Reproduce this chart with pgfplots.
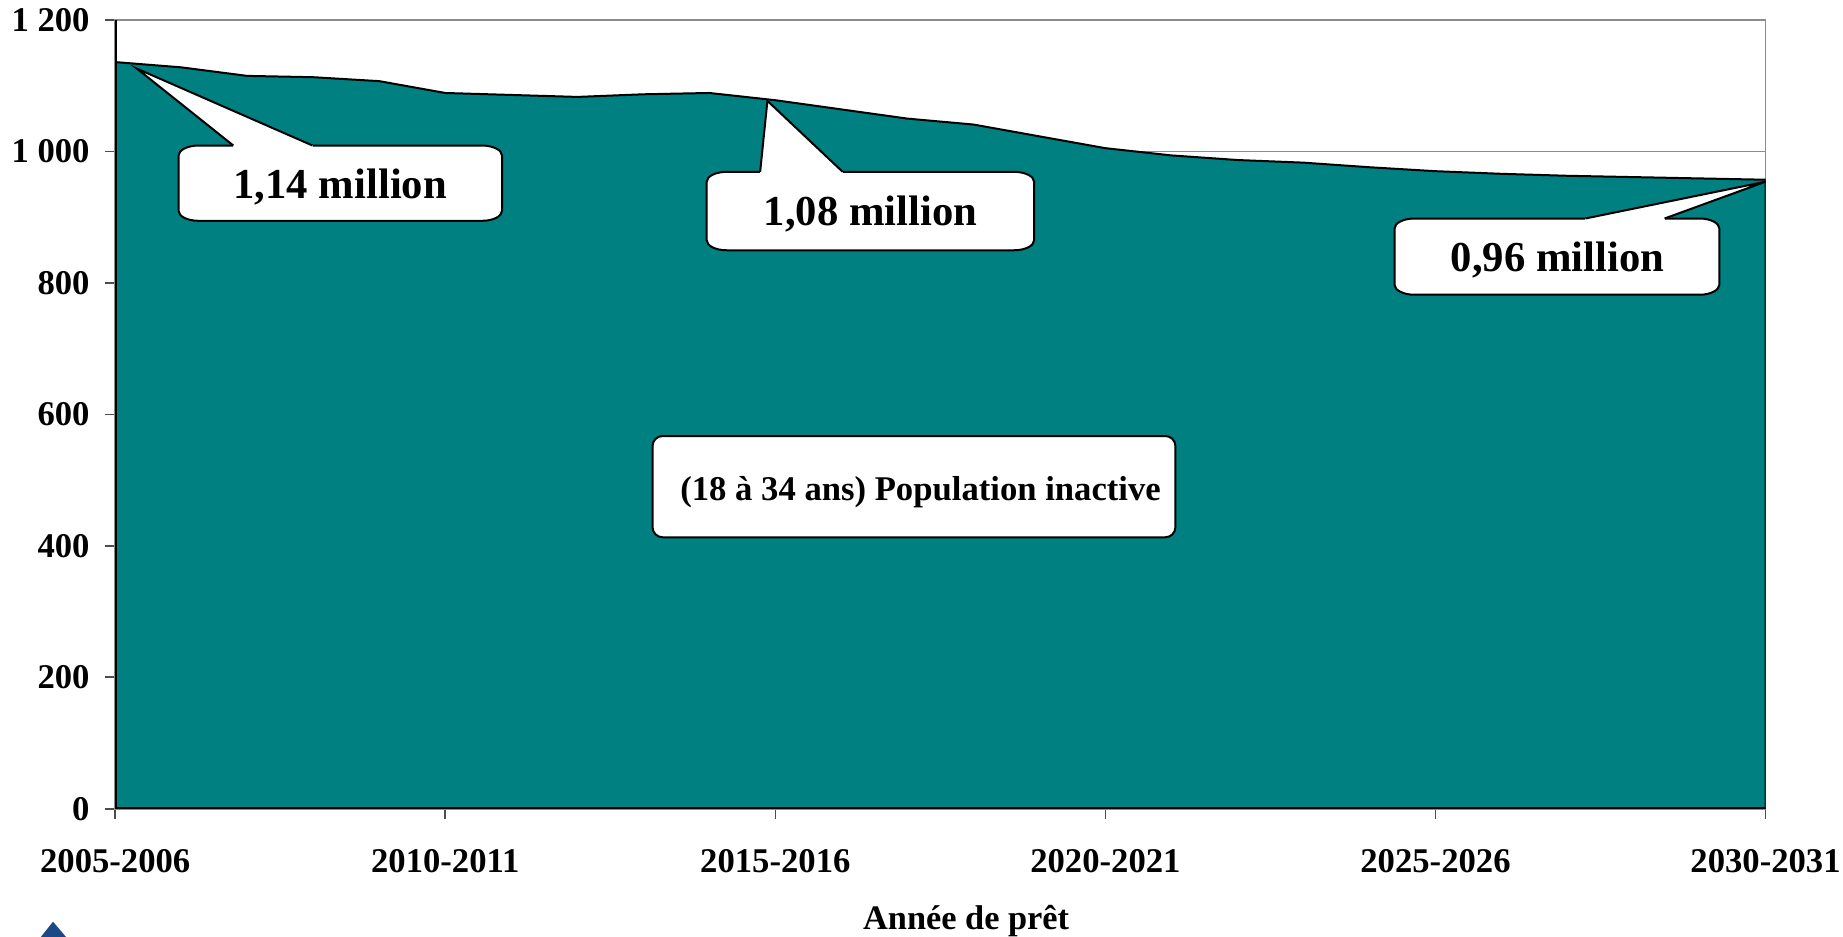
\documentclass[border=0pt]{standalone}
\usepackage{pgfplots}
\pgfplotsset{compat=1.18}
\usepackage{fontspec}
\setmainfont{Liberation Serif}
\definecolor{areateal}{RGB}{0,128,128}
\definecolor{logoblue}{RGB}{28,72,132}
\definecolor{framegray}{RGB}{140,140,140}

% callout box with elliptical corners: xleft, ybottom, xright, ytop (axis units)
\newcommand{\cbox}[4]{%
  \filldraw[fill=white, draw=black, line width=0.6pt]
    ([xshift=6pt]axis cs:#1,#4) -- ([xshift=-6pt]axis cs:#3,#4)
    arc[start angle=90, end angle=0, x radius=6pt, y radius=3pt]
    -- ([yshift=3pt]axis cs:#3,#2)
    arc[start angle=0, end angle=-90, x radius=6pt, y radius=3pt]
    -- ([xshift=6pt]axis cs:#1,#2)
    arc[start angle=270, end angle=180, x radius=6pt, y radius=3pt]
    -- ([yshift=-3pt]axis cs:#1,#4)
    arc[start angle=180, end angle=90, x radius=6pt, y radius=3pt] -- cycle;}
% pointer: base x1, base x2, base y, tip x, tip y
\newcommand{\cptr}[5]{%
  \fill[white] (axis cs:#1,#3) -- (axis cs:#4,#5) -- (axis cs:#2,#3) -- cycle;
  \fill[white] ([yshift=-1.5pt]axis cs:#1,#3) rectangle ([yshift=0.2pt]axis cs:#2,#3);
  \draw[black, line width=0.6pt, line join=miter] (axis cs:#1,#3) -- (axis cs:#4,#5) -- (axis cs:#2,#3);}

\begin{document}
\begin{tikzpicture}
\begin{axis}[
    scale only axis,
    width=495.1pt, height=236.6pt,
    xmin=0, xmax=25, ymin=0, ymax=1200,
    xtick={0,5,10,15,20,25},
    xticklabels={2005-2006,2010-2011,2015-2016,2020-2021,2025-2026,2030-2031},
    ytick={0,200,400,600,800,1000,1200},
    yticklabels={0,200,400,600,800,1 000,1 200},
    xtick pos=bottom, ytick pos=left,
    tick align=outside, major tick length=3pt,
    tick style={black!70, line width=0.5pt},
    ymajorgrids, grid style={framegray, line width=0.4pt},
    axis line style={framegray, line width=0.5pt},
    tick label style={font=\bfseries\fontsize{10.4}{12}\selectfont},
    yticklabel style={anchor=east, inner sep=0pt, xshift=-4.5pt},
    xticklabel style={anchor=center, inner sep=0pt, yshift=-12.6pt},
    xlabel={Année de prêt},
    xlabel style={font=\bfseries\fontsize{10.3}{12}\selectfont,
                  at={(axis description cs:0.5156,0)}, anchor=center, yshift=-33.8pt},
]
\addplot[fill=areateal, draw=black, line width=0.6pt] coordinates {
    (0,1136) (1,1128) (2,1115) (3,1113) (4,1107) (5,1089) (6,1086) (7,1083)
    (8,1087) (9,1089) (10,1078) (11,1064) (12,1050) (13,1041) (14,1023)
    (15,1005) (16,994) (17,987) (18,983) (19,976) (20,970) (21,966)
    (22,963) (23,961) (24,959) (25,957)
} \closedcycle;

\draw[black, line width=0.8pt] (axis cs:0,1200) -- (axis cs:0,0) -- (axis cs:25,0);

% callouts
\cbox{0.96}{894.5}{5.86}{1009}
\cptr{1.79}{2.99}{1009}{0.33}{1126}
\node[font=\bfseries\fontsize{12.8}{14}\selectfont] at (axis cs:3.41,946) {1,14 million};

\cbox{8.96}{849.7}{13.92}{969}
\cptr{9.77}{11.02}{969}{9.88}{1077}
\node[font=\bfseries\fontsize{12.8}{14}\selectfont] at (axis cs:11.44,905) {1,08 million};

\cbox{19.38}{782}{24.3}{898}
\cptr{22.27}{23.47}{898}{25}{954}
\node[font=\bfseries\fontsize{12.8}{14}\selectfont] at (axis cs:21.85,835) {0,96 million};

\filldraw[fill=white, draw=black, line width=0.6pt, rounded corners=3pt]
    (axis cs:8.14,413) rectangle (axis cs:16.06,567);
\node[font=\bfseries\fontsize{10.4}{12}\selectfont] at (axis cs:12.2,482)
    {(18 à 34 ans) Population inactive};
\end{axis}
\coordinate (pic) at ([shift={(-34.56pt,-38.19pt)}]current axis.south west);
\fill[logoblue] ([shift={(11.7pt,-1pt)}]pic) -- ([shift={(15.9pt,4.3pt)}]pic) -- ([shift={(20.4pt,-1pt)}]pic) -- cycle;
\pgfresetboundingbox
\path[use as bounding box] (pic) rectangle ++(552.9pt,280.8pt);
\end{tikzpicture}
\end{document}
